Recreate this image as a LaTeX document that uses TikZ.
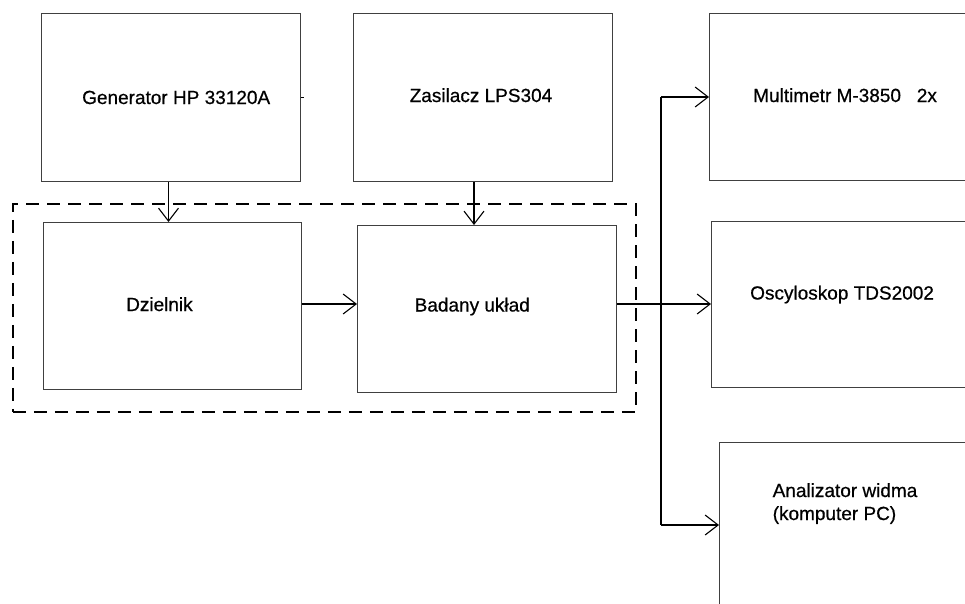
\documentclass[tikz,border=0pt]{standalone}
\usepackage{fontspec}
\setmainfont{Liberation Sans}
\newfontfamily\lblfont[FakeBold=0.6]{Liberation Sans}
\usetikzlibrary{arrows.meta}
\tikzset{
  box/.style={draw=black!75, line width=1pt, rectangle, inner sep=0pt, anchor=north west},
  lbl/.style={inner sep=0pt, anchor=base west, font=\lblfont\fontsize{19}{23}\selectfont, align=left},
  conn/.style={line width=1.8pt, black},
  arr/.style={conn, -{Straight Barb[length=13pt,width=20pt,line width=1.1pt]}},
  dashbox/.style={draw=black, line width=1.8pt, dash pattern=on 13pt off 8pt, rectangle, inner sep=0pt, anchor=north west}
}
\begin{document}
\begin{tikzpicture}[x=1pt,y=-1pt]
\clip (0,0) rectangle (965,603);
\fill[white] (0,0) rectangle (965,603);
% boxes
\node[box, minimum width=259pt, minimum height=168pt] (gen) at (41,13) {};
\node[box, minimum width=259pt, minimum height=168pt] (zas) at (353,13) {};
\node[box, minimum width=258.5pt, minimum height=167pt] (dz) at (42.5,222) {};
\node[box, minimum width=259pt, minimum height=167pt] (bad) at (357,225) {};
\node[box, minimum width=320pt, minimum height=167pt] (multi) at (709,13) {};
\node[box, minimum width=320pt, minimum height=166pt] (osc) at (711,221) {};
\node[box, minimum width=320pt, minimum height=220pt] (ana) at (719,442) {};
\node[dashbox, minimum width=623pt, minimum height=208pt] (grp) at (12,203) {};
% labels
\node[lbl] (tgen) at (82,104) {Generator HP 33120A};
\node[lbl] (tzas) at (409.5,102) {Zasilacz LPS304};
\node[lbl] (tdz) at (126,311) {Dzielnik};
\node[lbl] (tbad) at (414.5,311.5) {Badany układ};
\node[lbl] (tmulti) at (753,102) {Multimetr M-3850\ \ \ 2x};
\node[lbl] (tosc) at (750,299.5) {Oscyloskop TDS2002};
\node[lbl] (tana) at (772.5,520) {Analizator widma\\(komputer PC)};
% junctions
\coordinate (j1) at (661,97);
\coordinate (j2) at (661,304);
\coordinate (j3) at (661,525);
% connectors
\draw[line width=1pt] (gen.east) -- ++(3,0);
\draw[arr] ([xshift=-2.5pt]gen.south) -- ([xshift=-2.5pt]gen.south |- dz.north);
\draw[arr] ([xshift=-9pt]zas.south) -- ([xshift=-9pt]zas.south |- bad.north);
\draw[arr] ([yshift=2pt]dz.east) -- ([yshift=2pt]dz.east -| bad.west);
\draw[conn] (bad.east |- j2) -- (j2);
\draw[conn] (j1) -- (j3);
\draw[arr] (j1) -- (j1 -| multi.west);
\draw[arr] (j2) -- (j2 -| osc.west);
\draw[arr] (j3) -- (j3 -| ana.west);
\end{tikzpicture}
\end{document}
